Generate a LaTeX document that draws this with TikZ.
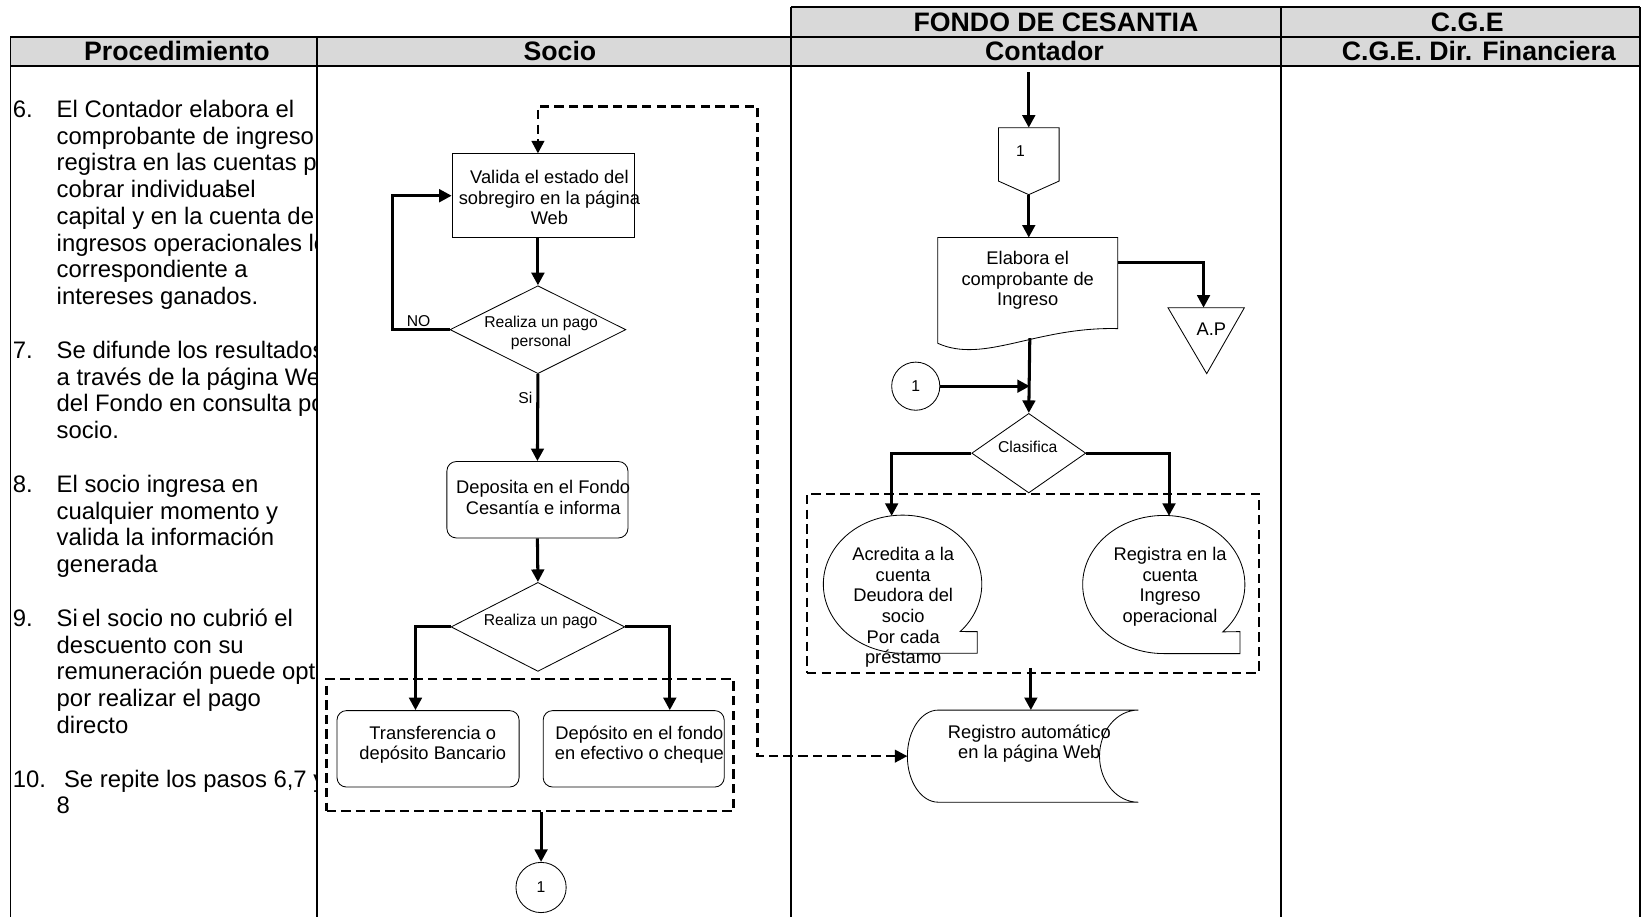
\documentclass[tikz,border=0pt]{standalone}
\usepackage{fontspec}
\setmainfont{Liberation Sans}
\usetikzlibrary{arrows.meta,shapes.geometric,calc}
\definecolor{headgray}{RGB}{217,217,217}

\begin{document}
\begin{tikzpicture}[x=1pt,y=-1pt,
  >={Triangle[length=12pt,width=12pt]},
  flow/.style={line width=2.9pt,->},
  dashflow/.style={line width=2.4pt,dash pattern=on 9pt off 5pt,<->},
  groupbox/.style={draw,line width=2.4pt,dash pattern=on 9pt off 5pt,inner sep=0},
  outline/.style={draw,line width=0.8pt},
  procbox/.style={outline,inner sep=0},
  roundbox/.style={outline,rounded corners=9pt,inner sep=0},
  decision/.style={outline,diamond,inner sep=0},
  connector/.style={outline,circle,inner sep=0,minimum size=48pt,font=\fontsize{15}{17}\selectfont},
  boxtext/.style={inner sep=0,align=center,font=\fontsize{17.5}{19.7}\selectfont},
  smalltext/.style={inner sep=0,align=center,font=\fontsize{15}{17.5}\selectfont},
  ptext/.style={inner sep=0,anchor=base west,font=\fontsize{22.8}{25.6}\selectfont},
  headtext/.style={inner sep=0,font=\bfseries\fontsize{25.5}{28}\selectfont},
  tablerule/.style={line width=1.5pt},
  headrule/.style={line width=2pt}]

\useasboundingbox (0,0) rectangle (1568,876);

% ---------- table header ----------
\fill[headgray] (756,7) rectangle (1567,35);
\fill[headgray] (10,35) rectangle (1567,63);
\draw[headrule] (756,7) -- (1567,7);
\draw[headrule] (10,35) -- (1567,35);
\draw[headrule] (10,63) -- (1567,63);
\draw[tablerule] (10,35) -- (10,876);
\draw[tablerule] (303,35) -- (303,876);
\draw[tablerule] (756,7) -- (756,876);
\draw[tablerule] (1224,7) -- (1224,876);
\draw[tablerule] (1567,7) -- (1567,876);

\node[headtext] (hFondo) at (1009,21) {FONDO DE CESANTIA};
\node[headtext] (hCGE) at (1402,21) {C.G.E};
\node[headtext] (hProc) at (169,49) {Procedimiento};
\node[headtext] (hSocio) at (535,49) {Socio};
\node[headtext] (hCont) at (998,49) {Contador};
\node[headtext] (hDir) at (1413,49) {C.G.E. Dir. Financiera};

% ---------- procedure text (cut at the column rule) ----------
\begin{scope}
\clip (11,64) rectangle (302,876);
\node[ptext] (n6) at (12,112) {6.};
\node[ptext] (p0) at (54,{112+25.6*0}) {El Contador elabora el};
\node[ptext] (p1) at (54,{112+25.6*1}) {comprobante de ingreso y};
\node[ptext] (p2) at (54,{112+25.6*2}) {registra en las cuentas por};
\node[ptext] (p3) at (54,{112+25.6*3}) {cobrar individua\rlap{l}sel};
\node[ptext] (p4) at (54,{112+25.6*4}) {capital y en la cuenta de};
\node[ptext] (p5) at (54,{112+25.6*5}) {ingresos operacionales lo};
\node[ptext] (p6) at (54,{112+25.6*6}) {correspondiente a};
\node[ptext] (p7) at (54,{112+25.6*7}) {intereses ganados.};
\node[ptext] (n7) at (12,{112+25.6*9}) {7.};
\node[ptext] (p9) at (54,{112+25.6*9}) {Se difunde los resultados};
\node[ptext] (p10) at (54,{112+25.6*10}) {a través de la página Web};
\node[ptext] (p11) at (54,{112+25.6*11}) {del Fondo en consulta por};
\node[ptext] (p12) at (54,{112+25.6*12}) {socio.};
\node[ptext] (n8) at (12,{112+25.6*14}) {8.};
\node[ptext] (p14) at (54,{112+25.6*14}) {El socio ingresa en};
\node[ptext] (p15) at (54,{112+25.6*15}) {cualquier momento y};
\node[ptext] (p16) at (54,{112+25.6*16}) {valida la información};
\node[ptext] (p17) at (54,{112+25.6*17}) {generada};
\node[ptext] (n9) at (12,{112+25.6*19}) {9.};
\node[ptext] (p19) at (54,{112+25.6*19}) {Si\kern-0.1em\ el socio no cubrió el};
\node[ptext] (p20) at (54,{112+25.6*20}) {descuento con su};
\node[ptext] (p21) at (54,{112+25.6*21}) {remuneración puede optar};
\node[ptext] (p22) at (54,{112+25.6*22}) {por realizar el pago};
\node[ptext] (p23) at (54,{112+25.6*23}) {directo};
\node[ptext] (n10) at (12,{112+25.6*25}) {10.};
\node[ptext] (p25) at (61,{112+25.6*25}) {Se repite los pasos 6,7 y};
\node[ptext] (p26) at (54,{112+25.6*26}) {8};
\end{scope}

% ---------- Socio lane ----------
\node[procbox,minimum width=174pt,minimum height=80pt] (valida) at (519,187) {};
\node[boxtext] (validaTxt) at (525,189) {Valida el estado del\\sobregiro en la página\\Web};

\node[decision,minimum width=168pt,minimum height=84pt] (d1) at (514,315) {};
\node[smalltext] (d1Txt) at (517,318) {Realiza un pago\\personal};

\node[roundbox,minimum width=173pt,minimum height=73pt] (dep) at (513.5,477.5) {};
\node[boxtext] (depTxt) at (519,475.5) {Deposita en el Fondo\\Cesantía e informa};

\node[decision,minimum width=166pt,minimum height=85pt] (d2) at (514,599) {};
\node[smalltext] (d2Txt) at (516.5,594) {Realiza un pago};

\node[groupbox,minimum width=389pt,minimum height=126pt] (g1) at (506.5,712) {};
\node[roundbox,minimum width=174pt,minimum height=73pt] (tb1) at (409,715.5) {};
\node[boxtext] (tb1Txt) at (413.5,711.5) {Transferencia o\\depósito Bancario};
\node[roundbox,minimum width=173pt,minimum height=73pt] (tb2) at (605.5,715.5) {};
\node[boxtext] (tb2Txt) at (611,711.5) {Depósito en el fondo\\en efectivo o cheque};

\node[connector] (c1) at (517,848) {1};

\node[smalltext] (noLbl) at (400,307) {NO};
\node[smalltext] (siLbl) at (502,380) {Si};

\draw[flow] (valida.south -| d1.north) -- (d1.north);
\draw[flow] (d1.west) -- ++(-55,0) |- (valida.west);
\draw[flow] (d1.south) -- (dep.north);
\draw[flow] (dep.south) -- (d2.north);
\draw[flow] (d2.west) -| ([xshift=-12pt]tb1.north);
\draw[flow] (d2.east) -| ([xshift=34.5pt]tb2.north);
\draw[flow] (g1.south -| c1.north) -- (c1.north);

% ---------- Contador lane ----------
\coordinate (topIn) at (983,69);
\coordinate (opcTop) at (983,122);
\coordinate (opcBot) at (983,186);
\draw[outline] (954,122) -- (1012,122) -- (1012,173) -- (983,186) -- (954,173) -- cycle;
\node[smalltext] (opcTxt) at (975,144) {1};

\coordinate (docTop) at (983,227);
\coordinate (docRight) at (1068,251);
\coordinate (docBot) at (984,323);
\draw[outline] (896,227) -- (1068,227) -- (1068,314)
  .. controls (990,312) and (940,348) .. (896,328) -- cycle;
\node[boxtext] (docTxt) at (982,268) {Elabora el\\comprobante de\\Ingreso};

\coordinate (apTop) at (1150,294);
\draw[outline] (1116,294) -- (1189,294) -- (1153,357) -- cycle;
\node[boxtext] (apTxt) at (1157.5,315) {A.P};

\node[connector,minimum size=46pt] (c2) at (875,369) {1};

\node[decision,minimum width=109pt,minimum height=76pt] (d3) at (983,433) {};
\node[smalltext] (d3Txt) at (982,427) {Clasifica};

\node[groupbox,minimum width=432pt,minimum height=171pt] (g2) at (987,557.5) {};

\coordinate (callLTop) at (852,493);
\coordinate (callRTop) at (1117,493);
\draw[outline] (862.4,624.2) arc[start angle=90,end angle=403.3,x radius=75.7,y radius=66]
  -- (933.8,603.5) -- (933.8,624.2) -- cycle;
\node[boxtext] (callLTxt) at (863,580.5) {Acredita a la\\cuenta\\Deudora del\\socio\\Por cada\\préstamo};
\draw[outline] (1112,624.5) arc[start angle=90,end angle=403.3,x radius=77.5,y radius=66]
  -- (1184.8,603.5) -- (1184.8,624.5) -- cycle;
\node[boxtext] (callRTxt) at (1118,560.5) {Registra en la\\cuenta\\Ingreso\\operacional};

\coordinate (regTop) at (985,678.5);
\coordinate (regWest) at (867,722.5);
\draw[outline] (896.5,766.5) arc[start angle=90,end angle=270,x radius=29.5,y radius=44]
  -- (1087.6,678.5) arc[start angle=270,end angle=90,x radius=37,y radius=44] -- cycle;
\node[boxtext] (regTxt) at (983.5,710.5) {Registro automático\\en la página Web};

\draw[flow] (topIn) -- (opcTop);
\draw[flow] (opcBot) -- (docTop);
\draw[flow] (docRight) -| (apTop);
\draw[flow] (docBot) -- (d3.north);
\draw[flow] (c2.east) -- (c2.east -| docBot);
\draw[flow] (d3.west) -| (callLTop);
\draw[flow] (d3.east) -| (callRTop);
\draw[flow] ($(g2.south -| regTop)+(0,-6)$) -- (regTop);

% ---------- web link between the lanes ----------
\draw[dashflow] (regWest) -- ++(-143,0) |- ($(valida.north)+(-5,-45)$) -- ($(valida.north)+(-5,0)$);

\end{tikzpicture}
\end{document}
